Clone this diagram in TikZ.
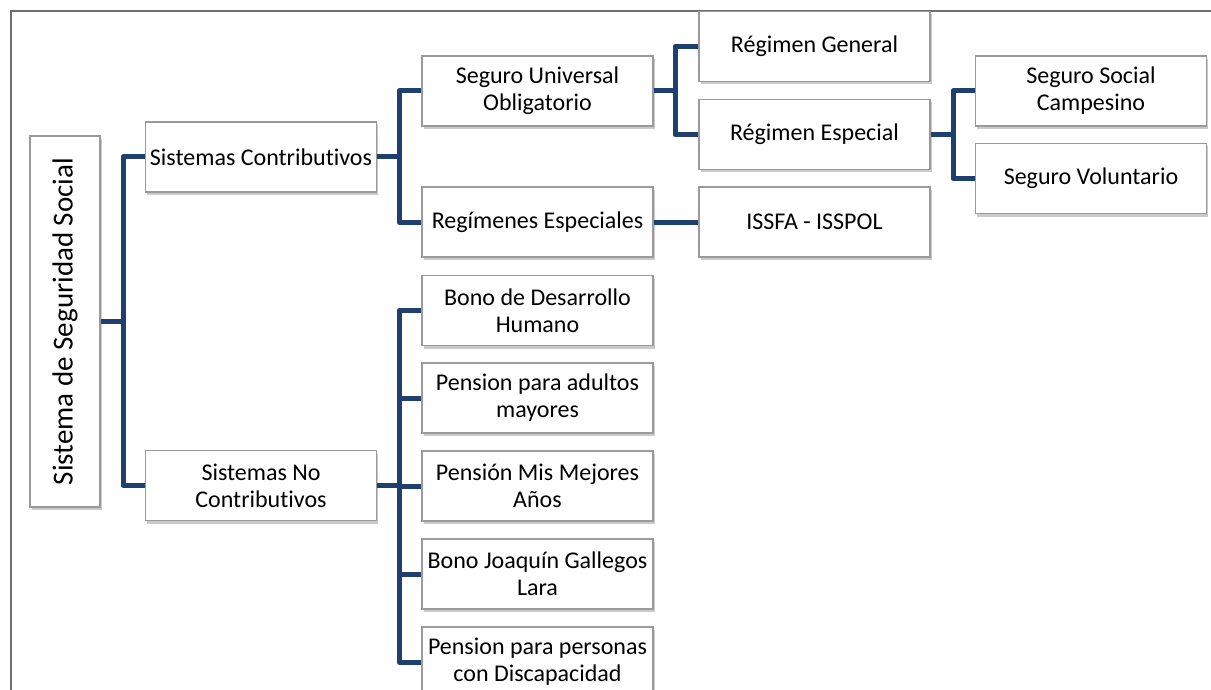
\documentclass[tikz,border=0pt]{standalone}
\usepackage{fontspec}
\setmainfont[Ligatures={NoCommon,NoContextual,NoRare},RawFeature={-liga;-clig;-calt;-dlig}]{Carlito}
\usetikzlibrary{shadows}
\definecolor{conncol}{HTML}{1F3F6E}
\definecolor{boxline}{HTML}{9A9A9A}
\definecolor{framecol}{HTML}{6E6E6E}
\begin{document}
\begin{tikzpicture}[x=1pt,y=-1pt,
  stepbox/.style={draw=boxline, line width=1.2pt, fill=white, align=center,
    minimum width=231pt, minimum height=70pt, inner sep=2pt,
    font=\fontsize{24}{27}\selectfont,
    drop shadow={shadow xshift=1.5pt, shadow yshift=-3pt, opacity=0.35, fill=black!60}},
  rootbox/.style={stepbox, minimum width=371pt, minimum height=70pt, rotate=90,
    font=\fontsize{29}{34}\selectfont},
  conn/.style={draw=conncol, line width=5pt, line join=round, line cap=butt}]
\useasboundingbox (0,0) rectangle (1211,690);
\draw[framecol, line width=2pt] (11,690) -- (11,11) -- (1211,11);
% nodes
\node[rootbox] (root) at (65,321.5) {Sistema de Seguridad Social};
\node[stepbox] (sc) at (261,157) {Sistemas Contributivos};
\node[stepbox] (snc) at (261,485.5) {Sistemas No\\Contributivos};
\node[stepbox] (suo) at (537.5,91) {Seguro Universal\\Obligatorio};
\node[stepbox] (re) at (537.5,222) {Regímenes Especiales};
\node[stepbox] (rg) at (814.5,46.5) {Régimen General};
\node[stepbox] (res) at (814.5,134.5) {Régimen Especial};
\node[stepbox] (issfa) at (814.5,222) {ISSFA - ISSPOL};
\node[stepbox] (ssc) at (1091,91) {Seguro Social\\Campesino};
\node[stepbox] (sv) at (1091,178.5) {Seguro Voluntario};
\node[stepbox] (bdh) at (537.5,310.5) {Bono de Desarrollo\\Humano};
\node[stepbox] (ppam) at (537.5,398) {Pension para adultos\\mayores};
\node[stepbox] (pmma) at (537.5,486) {Pensión Mis Mejores\\Años};
\node[stepbox] (bjgl) at (537.5,574) {Bono Joaquín Gallegos\\Lara};
\node[stepbox] (ppd) at (537.5,662) {Pension para personas\\con Discapacidad};
% trunk coordinates
\coordinate (t1) at (123,321.5);
\coordinate (t2) at (399,157);
\coordinate (t3) at (675,91);
\coordinate (t4) at (953,134.5);
\coordinate (t5) at (399,485.5);
% connectors
\draw[conn] (root.south) -- (t1);
\draw[conn] (sc.west) -| (t1) |- (snc.west);
\draw[conn] (sc.east) -- (t2);
\draw[conn] (suo.west) -| (t2) |- (re.west);
\draw[conn] (suo.east) -- (t3);
\draw[conn] (rg.west) -| (t3) |- (res.west);
\draw[conn] (re.east) -- (issfa.west);
\draw[conn] (res.east) -- (t4);
\draw[conn] (ssc.west) -| (t4) |- (sv.west);
\draw[conn] (snc.east) -- (t5);
\draw[conn] (bdh.west) -| (t5) |- (ppd.west);
\draw[conn] (ppam.west) -- (ppam.west -| t5);
\draw[conn] (pmma.west) -- (pmma.west -| t5);
\draw[conn] (bjgl.west) -- (bjgl.west -| t5);
\end{tikzpicture}
\end{document}
